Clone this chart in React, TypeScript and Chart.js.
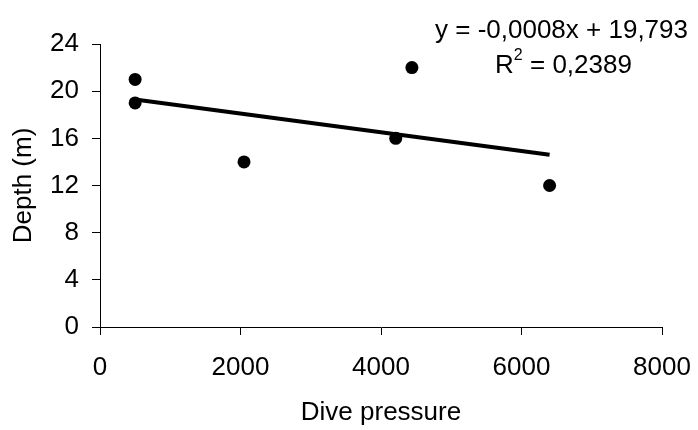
import React, { useEffect, useRef } from 'react';
import { Chart, registerables } from 'chart.js';

Chart.register(...registerables);

const divePressure = [500, 500, 2050, 4210, 4440, 6400];
const depth = [21, 19, 14, 16, 22, 12];
const trendX = [500, 6400];
const trendY = [19.3, 14.6];
const xTickValues = [0, 2000, 4000, 6000, 8000];
const yTickValues = [0, 4, 8, 12, 16, 20, 24];
const equationText = 'y = -0,0008x + 19,793';
const r2Base = 'R';
const r2Sup = '2';
const r2Rest = ' = 0,2389';
const xTitle = 'Dive pressure';
const yTitle = 'Depth (m)';

const FONT = "'Liberation Sans', Arial, sans-serif";
const FS = 26;

const equationPlugin = {
  id: 'equationLabel',
  afterDraw(chart: any) {
    const ctx = chart.ctx;
    ctx.save();
    ctx.fillStyle = '#000';
    ctx.textBaseline = 'alphabetic';
    ctx.textAlign = 'center';
    ctx.font = `${FS}px ${FONT}`;
    ctx.fillText(equationText, 561.5, 38);

    ctx.textAlign = 'left';
    const mainFont = `${FS}px ${FONT}`;
    const supFont = `16px ${FONT}`;
    ctx.font = mainFont;
    const wR = ctx.measureText(r2Base).width;
    const wRest = ctx.measureText(r2Rest).width;
    ctx.font = supFont;
    const wSup = ctx.measureText(r2Sup).width;
    const total = wR + wSup + wRest;
    let x = 563.5 - total / 2;
    const base = 73;
    ctx.font = mainFont;
    ctx.fillText(r2Base, x, base);
    x += wR;
    ctx.font = supFont;
    ctx.fillText(r2Sup, x, base - 13);
    x += wSup;
    ctx.font = mainFont;
    ctx.fillText(r2Rest, x, base);
    ctx.restore();
  },
};

export default function App() {
  const canvasRef = useRef<HTMLCanvasElement | null>(null);

  useEffect(() => {
    if (!canvasRef.current) return;
    const chart = new Chart(canvasRef.current, {
      type: 'scatter',
      data: {
        datasets: [
          {
            type: 'scatter',
            data: divePressure.map((x, i) => ({ x, y: depth[i] })),
            backgroundColor: '#000',
            borderColor: '#000',
            pointRadius: 6.5,
            pointBorderWidth: 0,
          },
          {
            type: 'line',
            data: trendX.map((x, i) => ({ x, y: trendY[i] })),
            borderColor: '#000',
            borderWidth: 4,
            pointRadius: 0,
            fill: false,
          } as any,
        ],
      },
      options: {
        animation: false,
        responsive: false,
        layout: { padding: { left: 0, right: 36, top: 44, bottom: 0 } },
        plugins: { legend: { display: false }, tooltip: { enabled: false } },
        scales: {
          x: {
            type: 'linear',
            min: xTickValues[0],
            max: xTickValues[xTickValues.length - 1],
            afterBuildTicks: (scale: any) => {
              scale.ticks = xTickValues.map((v) => ({ value: v }));
            },
            afterFit: (scale: any) => {
              scale.height = 103;
              scale.paddingLeft = 0;
              scale.paddingRight = 0;
            },
            grid: { display: true, drawOnChartArea: false, drawTicks: true, tickLength: 8, color: '#000' },
            border: { display: true, color: '#000', width: 1 },
            ticks: {
              color: '#000',
              font: { family: FONT, size: FS },
              padding: 17,
              maxRotation: 0,
              callback: (v: any) => String(v),
            },
            title: { display: true, text: xTitle, color: '#000', font: { family: FONT, size: FS }, padding: { top: 0, bottom: 2 } },
          },
          y: {
            type: 'linear',
            min: yTickValues[0],
            max: yTickValues[yTickValues.length - 1],
            afterBuildTicks: (scale: any) => {
              scale.ticks = yTickValues.map((v) => ({ value: v }));
            },
            afterFit: (scale: any) => {
              scale.width = 100;
              scale.paddingTop = 0;
              scale.paddingBottom = 0;
            },
            grid: { display: true, drawOnChartArea: false, drawTicks: true, tickLength: 8, color: '#000' },
            border: { display: true, color: '#000', width: 1 },
            ticks: { color: '#000', font: { family: FONT, size: FS }, padding: 13, callback: (v: any) => String(v) },
            title: { display: true, text: yTitle, color: '#000', font: { family: FONT, size: FS }, padding: { top: 8, bottom: 0 } },
          },
        },
      },
      plugins: [equationPlugin],
    });
    return () => chart.destroy();
  }, []);

  return (
    <div style={{ position: 'absolute', left: 0, top: 0, width: 698, height: 430, background: '#fff' }}>
      <canvas ref={canvasRef} width={698} height={430} />
    </div>
  );
}
